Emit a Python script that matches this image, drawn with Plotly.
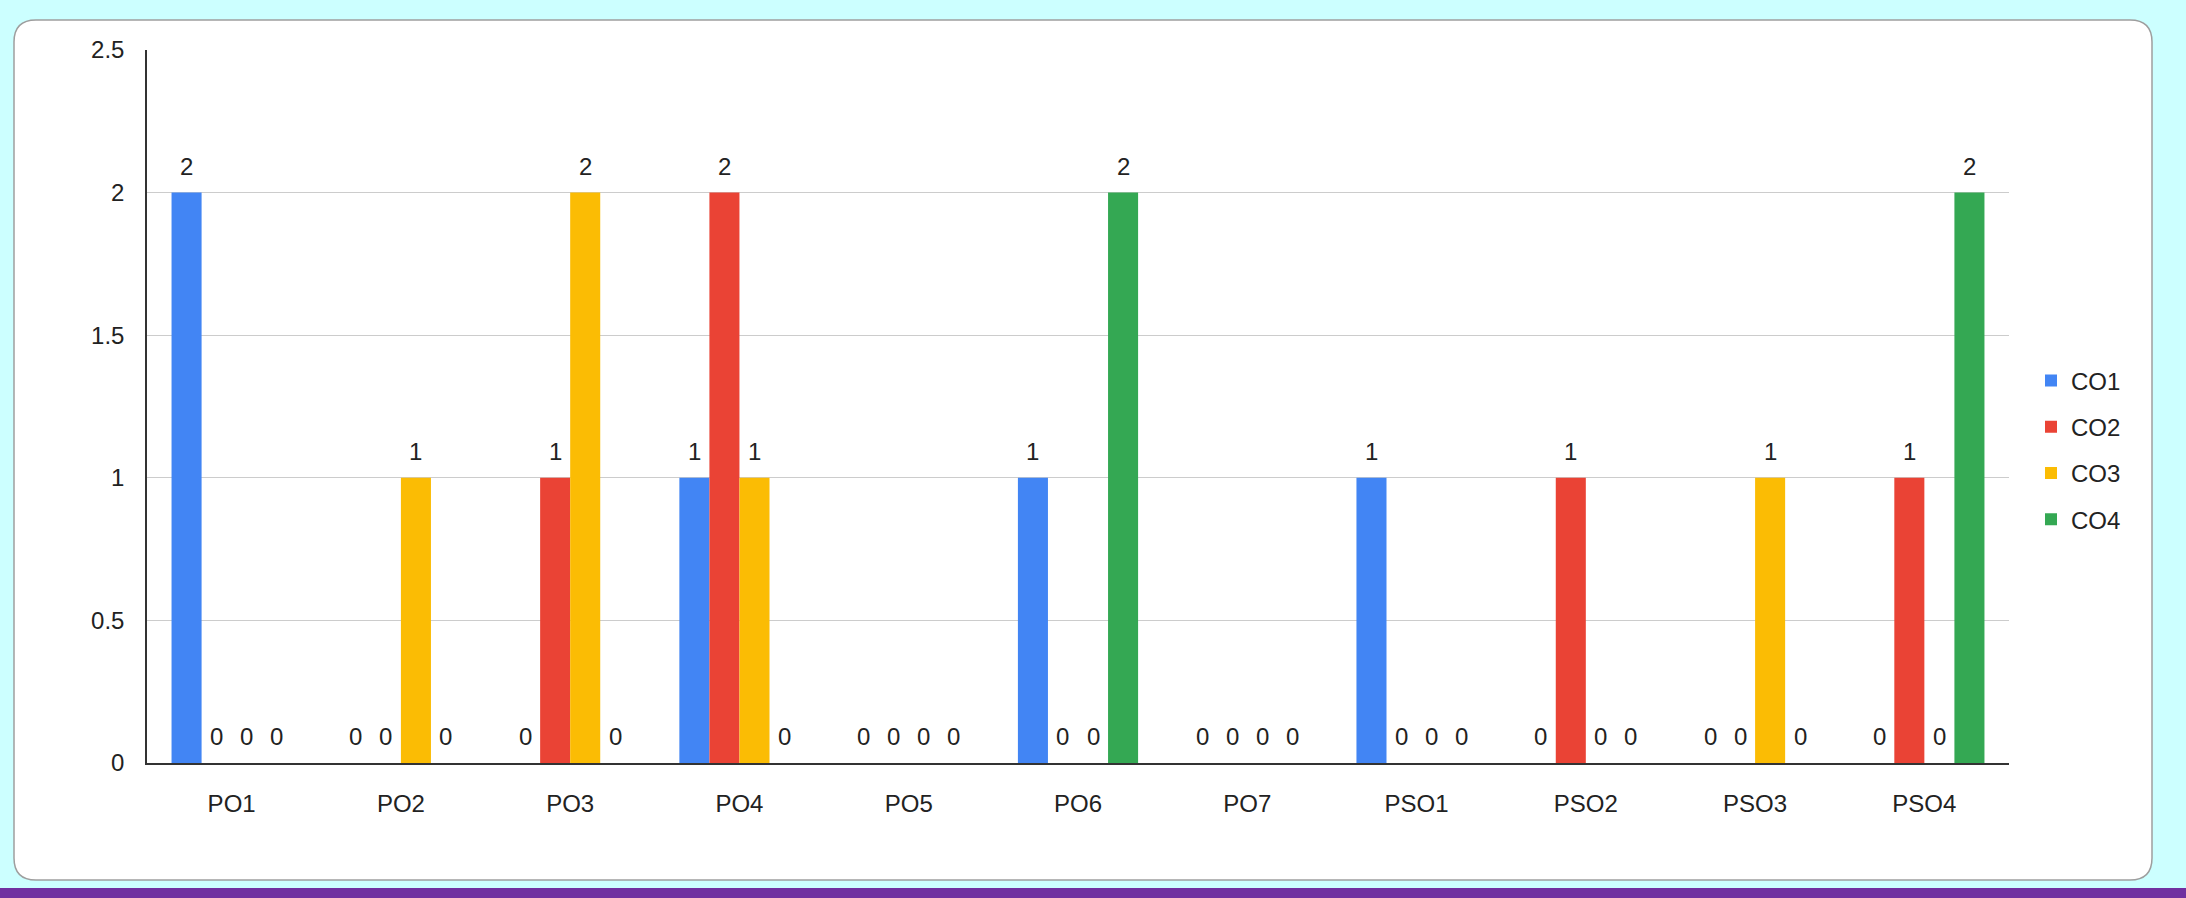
import plotly.graph_objects as go

categories = ["PO1", "PO2", "PO3", "PO4", "PO5", "PO6", "PO7", "PSO1", "PSO2", "PSO3", "PSO4"]
series_names = ["CO1", "CO2", "CO3", "CO4"]
co1 = [2, 0, 0, 1, 0, 1, 0, 1, 0, 0, 0]
co2 = [0, 0, 1, 2, 0, 0, 0, 0, 1, 0, 1]
co3 = [0, 1, 2, 1, 0, 0, 0, 0, 0, 1, 0]
co4 = [0, 0, 0, 0, 0, 2, 0, 0, 0, 0, 2]
series_values = [co1, co2, co3, co4]
colors = ["#4285F4", "#EA4335", "#FBBC04", "#34A853"]
y_ticks = [0, 0.5, 1, 1.5, 2, 2.5]

W, H = 2186, 898
L, R, T, B = 147, 2009, 50, 763
BARGAP = 0.29
FONT = "Arial, Liberation Sans, sans-serif"
TXT = "#222222"


def px(xp):
    return (xp - L) / (R - L)


def py(yp):
    return (B - yp) / (B - T)


fig = go.Figure()
for name, vals, col in zip(series_names, series_values, colors):
    fig.add_trace(go.Bar(x=categories, y=vals, name=name, legendgroup=name,
                         marker_color=col, marker_line_width=0, hoverinfo="skip"))

# value labels above each bar (including zeros)
n = len(series_names)
bw = (1 - BARGAP) / n
annotations = []
for k, vals in enumerate(series_values):
    for i, v in enumerate(vals):
        annotations.append(dict(
            x=i + (k - (n - 1) / 2) * bw, y=v, xref="x", yref="y",
            text=str(v), showarrow=False, yanchor="bottom", yshift=11,
            font=dict(family=FONT, size=24, color=TXT)))

# card background and bottom bar
x0, x1, y0, y1, r = 14, 2152, 20, 880, 22
rx = r / (R - L)
ry = r / (B - T)
X0, X1, Y0, Y1 = px(x0), px(x1), py(y0), py(y1)
path = (f"M{X0+rx},{Y0} L{X1-rx},{Y0} Q{X1},{Y0} {X1},{Y0-ry} "
        f"L{X1},{Y1+ry} Q{X1},{Y1} {X1-rx},{Y1} L{X0+rx},{Y1} "
        f"Q{X0},{Y1} {X0},{Y1+ry} L{X0},{Y0-ry} Q{X0},{Y0} {X0+rx},{Y0} Z")
shapes = [
    dict(type="path", path=path, xref="paper", yref="paper", layer="below",
         fillcolor="#FFFFFF", line=dict(color="#9E9E9E", width=1.5)),
    dict(type="rect", xref="paper", yref="paper", layer="below",
         x0=px(0), x1=px(W), y0=py(888), y1=py(H + 5),
         fillcolor="#7030A0", line=dict(width=0)),
]

fig.update_layout(
    width=W, height=H,
    margin=dict(l=L, r=W - R, t=T, b=H - B, pad=0),
    paper_bgcolor="#CCFFFF", plot_bgcolor="rgba(0,0,0,0)",
    barmode="group", bargap=BARGAP, bargroupgap=0,
    font=dict(family=FONT, size=24, color=TXT),
    shapes=shapes, annotations=annotations,
    legend=dict(x=px(2031), xanchor="left", y=py(450), yanchor="middle",
                font=dict(family=FONT, size=24, color=TXT),
                bgcolor="rgba(0,0,0,0)", tracegroupgap=12),
    showlegend=True,
)
fig.update_xaxes(type="category", showgrid=False, showline=True,
                 linecolor="#333333", linewidth=1.5, ticks="",
                 ticklabelstandoff=18, tickfont=dict(size=24, color=TXT),
                 zeroline=False)
fig.update_yaxes(range=[0, 2.5], tickvals=y_ticks, ticktext=[f"{t:g}" for t in y_ticks],
                 showgrid=True, gridcolor="#CCCCCC", gridwidth=1,
                 showline=True, linecolor="#333333", linewidth=1.5,
                 ticks="", ticklabelstandoff=16, tickfont=dict(size=24, color=TXT),
                 zeroline=False)

fig.write_html("out.html",
               config={"displayModeBar": False},
               post_script="document.body.style.margin='0';"
                           "document.body.style.overflow='hidden';"
                           "document.body.style.background='#CCFFFF';")
